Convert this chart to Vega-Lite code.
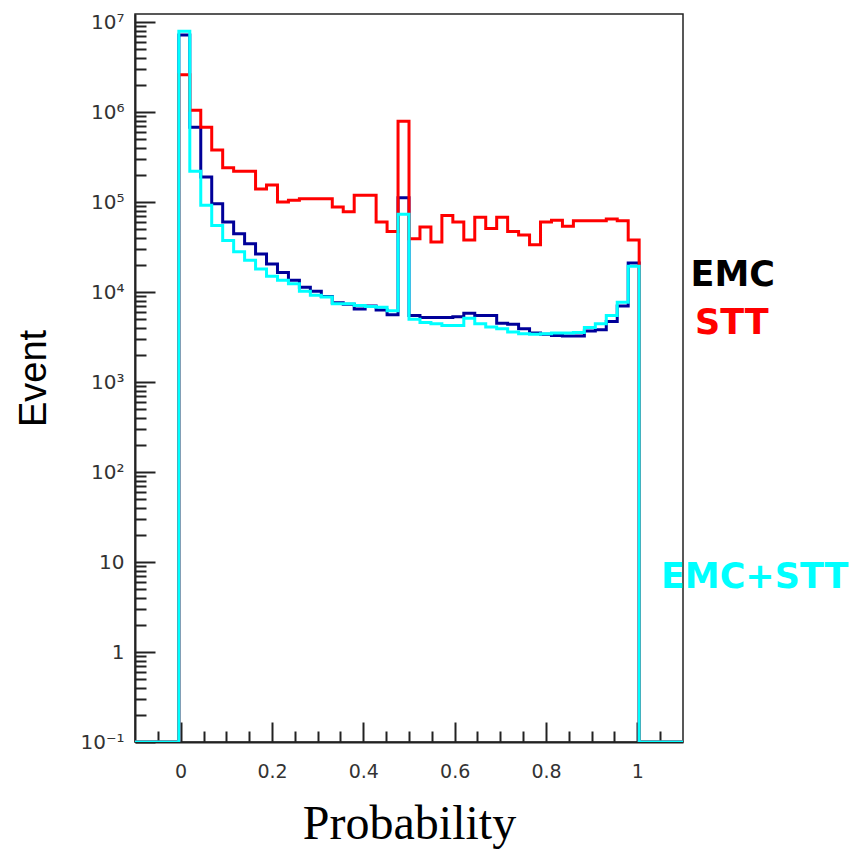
{
  "$schema": "https://vega.github.io/schema/vega-lite/v6.json",
  "width": 548,
  "height": 728,
  "autosize": {"type": "none"},
  "padding": {"left": 135, "top": 14, "right": 176, "bottom": 110},
  "background": "white",
  "config": {"view": {"stroke": "#222", "strokeWidth": 1.5}, "axis": {"grid": false}},
  "datasets": {
    "hist": [
      {"x": -0.1, "emc": 0.1, "stt": 0.1, "both": 0.1},
      {"x": -0.076, "emc": 0.1, "stt": 0.1, "both": 0.1},
      {"x": -0.052, "emc": 0.1, "stt": 0.1, "both": 0.1},
      {"x": -0.028, "emc": 0.1, "stt": 0.1, "both": 0.1},
      {"x": -0.004, "emc": 7200000, "stt": 2600000, "both": 7900000},
      {"x": 0.02, "emc": 680000, "stt": 1050000, "both": 220000},
      {"x": 0.044, "emc": 190000, "stt": 680000, "both": 92000},
      {"x": 0.068, "emc": 96000, "stt": 380000, "both": 55000},
      {"x": 0.092, "emc": 60000, "stt": 240000, "both": 37500},
      {"x": 0.116, "emc": 44500, "stt": 220000, "both": 28000},
      {"x": 0.14, "emc": 34500, "stt": 220000, "both": 22500},
      {"x": 0.164, "emc": 26500, "stt": 140000, "both": 18000},
      {"x": 0.188, "emc": 20500, "stt": 155000, "both": 15000},
      {"x": 0.212, "emc": 16500, "stt": 100000, "both": 13500},
      {"x": 0.236, "emc": 13500, "stt": 105000, "both": 12400},
      {"x": 0.26, "emc": 11300, "stt": 109000, "both": 10200},
      {"x": 0.284, "emc": 10200, "stt": 109000, "both": 9200},
      {"x": 0.308, "emc": 8900, "stt": 109000, "both": 8800},
      {"x": 0.332, "emc": 7600, "stt": 88000, "both": 7400},
      {"x": 0.356, "emc": 7300, "stt": 78000, "both": 7400},
      {"x": 0.38, "emc": 6500, "stt": 119000, "both": 7100},
      {"x": 0.404, "emc": 7000, "stt": 119000, "both": 6900},
      {"x": 0.428, "emc": 6300, "stt": 60000, "both": 6800},
      {"x": 0.452, "emc": 5600, "stt": 47000, "both": 6200},
      {"x": 0.476, "emc": 112000, "stt": 790000, "both": 73000},
      {"x": 0.5, "emc": 5500, "stt": 39000, "both": 5000},
      {"x": 0.524, "emc": 5200, "stt": 53000, "both": 4600},
      {"x": 0.548, "emc": 5200, "stt": 36000, "both": 4450},
      {"x": 0.572, "emc": 5200, "stt": 71000, "both": 4250},
      {"x": 0.596, "emc": 5300, "stt": 60000, "both": 4250},
      {"x": 0.62, "emc": 5800, "stt": 38000, "both": 5100},
      {"x": 0.644, "emc": 5500, "stt": 68000, "both": 4450},
      {"x": 0.668, "emc": 5500, "stt": 51000, "both": 4100},
      {"x": 0.692, "emc": 4500, "stt": 68000, "both": 3900},
      {"x": 0.716, "emc": 4400, "stt": 47000, "both": 3600},
      {"x": 0.74, "emc": 3900, "stt": 43000, "both": 3450},
      {"x": 0.764, "emc": 3500, "stt": 33500, "both": 3400},
      {"x": 0.788, "emc": 3400, "stt": 60000, "both": 3450},
      {"x": 0.812, "emc": 3300, "stt": 63000, "both": 3500},
      {"x": 0.836, "emc": 3250, "stt": 54000, "both": 3500},
      {"x": 0.86, "emc": 3250, "stt": 62000, "both": 3550},
      {"x": 0.884, "emc": 3700, "stt": 62000, "both": 4050},
      {"x": 0.908, "emc": 3800, "stt": 62000, "both": 4450},
      {"x": 0.932, "emc": 4700, "stt": 65000, "both": 5500},
      {"x": 0.956, "emc": 7000, "stt": 62000, "both": 7700},
      {"x": 0.98, "emc": 21000, "stt": 38000, "both": 19300},
      {"x": 1.004, "emc": 0.1, "stt": 0.1, "both": 0.1},
      {"x": 1.028, "emc": 0.1, "stt": 0.1, "both": 0.1},
      {"x": 1.052, "emc": 0.1, "stt": 0.1, "both": 0.1},
      {"x": 1.076, "emc": 0.1, "stt": 0.1, "both": 0.1},
      {"x": 1.1, "emc": 0.1, "stt": 0.1, "both": 0.1}
    ],
    "labels": [
      {"label": "EMC", "x": 1.209, "n": 15600},
      {"label": "STT", "x": 1.207, "n": 4500},
      {"label": "EMC+STT", "x": 1.257, "n": 6.9}
    ]
  },
  "encoding": {
    "x": {
      "field": "x",
      "type": "quantitative",
      "scale": {"domain": [-0.1, 1.1], "nice": false, "zero": false},
      "axis": {
        "values": [-0.05, 0, 0.05, 0.1, 0.15, 0.2, 0.25, 0.3, 0.35, 0.4, 0.45, 0.5, 0.55, 0.6, 0.65, 0.7, 0.75, 0.8, 0.85, 0.9, 0.95, 1, 1.05],
        "labelExpr": "abs(datum.value*5 - round(datum.value*5)) < 0.000001 ? format(datum.value, '~g') : ''",
        "tickSize": {"condition": {"test": "abs(datum.value*5 - round(datum.value*5)) < 0.000001", "value": -20}, "value": -11},
        "tickColor": "#222",
        "tickWidth": 2,
        "domainColor": "#222",
        "domainWidth": 2,
        "labelFont": "DejaVu Sans",
        "labelFontSize": 19,
        "labelColor": "#333",
        "labelPadding": 40,
        "labelOverlap": false,
        "labelFlush": false,
        "title": "Probability",
        "titleFont": "Liberation Serif",
        "titleFontSize": 48,
        "titleFontWeight": "normal",
        "titleColor": "#000",
        "titlePadding": 10
      }
    },
    "y": {
      "field": "n",
      "type": "quantitative",
      "scale": {"type": "log", "domain": [0.1, 12300000], "nice": false},
      "axis": {
        "values": [0.1,0.2,0.3,0.4,0.5,0.6,0.7,0.8,0.9,1,2,3,4,5,6,7,8,9,10,20,30,40,50,60,70,80,90,100,200,300,400,500,600,700,800,900,1000,2000,3000,4000,5000,6000,7000,8000,9000,10000,20000,30000,40000,50000,60000,70000,80000,90000,100000,200000,300000,400000,500000,600000,700000,800000,900000,1000000,2000000,3000000,4000000,5000000,6000000,7000000,8000000,9000000,10000000],
        "labelExpr": "abs(log(datum.value)/LN10 - round(log(datum.value)/LN10)) < 0.000001 ? (round(log(datum.value)/LN10) == 0 ? '1' : (round(log(datum.value)/LN10) == 1 ? '10' : '10' + ['⁻¹','','','²','³','⁴','⁵','⁶','⁷'][round(log(datum.value)/LN10) + 1])) : ''",
        "tickSize": {"condition": {"test": "abs(log(datum.value)/LN10 - round(log(datum.value)/LN10)) < 0.000001", "value": -20}, "value": -11},
        "tickColor": "#222",
        "tickWidth": 2,
        "domainColor": "#222",
        "domainWidth": 2,
        "labelFont": "DejaVu Sans",
        "labelFontSize": 20,
        "labelColor": "#333",
        "labelPadding": 31,
        "labelOverlap": false,
        "labelFlush": false,
        "title": "Event",
        "titleFont": "Liberation Sans",
        "titleFontSize": 38,
        "titleFontWeight": "normal",
        "titleColor": "#000",
        "titlePadding": 26
      }
    }
  },
  "layer": [
    {
      "data": {"name": "hist"},
      "transform": [{"fold": ["emc"], "as": ["series", "n"]}],
      "mark": {"type": "line", "interpolate": "step-after", "strokeWidth": 3, "color": "#000099", "clip": true}
    },
    {
      "data": {"name": "hist"},
      "transform": [{"fold": ["stt"], "as": ["series", "n"]}],
      "mark": {"type": "line", "interpolate": "step-after", "strokeWidth": 3, "color": "#ff0000", "clip": true}
    },
    {
      "data": {"name": "hist"},
      "transform": [{"fold": ["both"], "as": ["series", "n"]}],
      "mark": {"type": "line", "interpolate": "step-after", "strokeWidth": 3, "color": "#00ffff", "clip": true}
    },
    {
      "data": {"name": "labels"},
      "mark": {"type": "text", "font": "DejaVu Sans", "fontWeight": "bold", "fontSize": 35, "align": "center", "baseline": "middle", "clip": false},
      "encoding": {
        "text": {"field": "label", "type": "nominal"},
        "color": {"field": "label", "type": "nominal", "scale": {"domain": ["EMC", "STT", "EMC+STT"], "range": ["#000000", "#ff0000", "#00ffff"]}, "legend": null}
      }
    }
  ]
}
